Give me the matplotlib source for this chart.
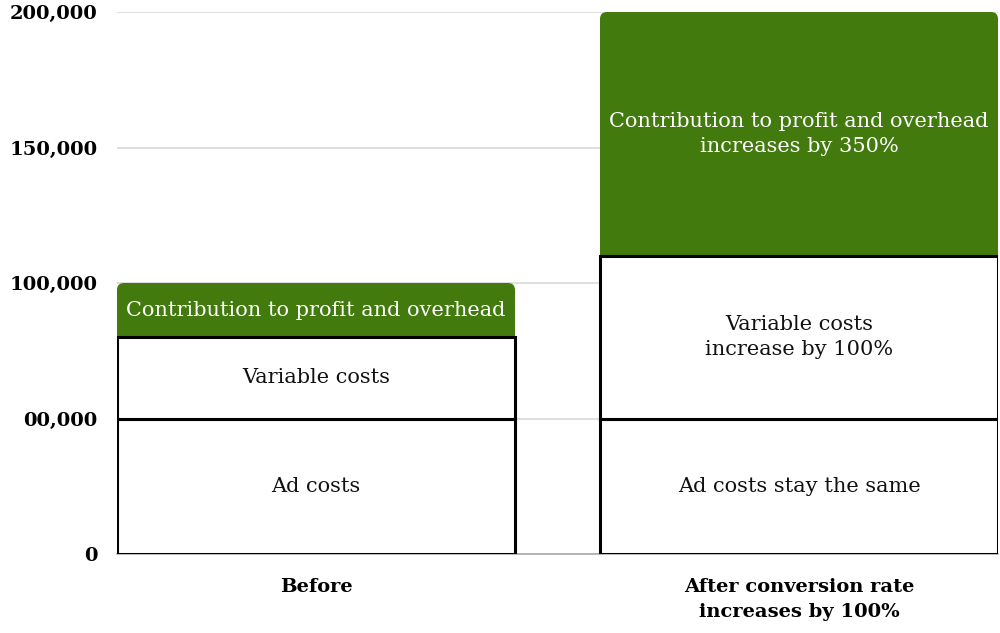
import matplotlib
matplotlib.use("Agg")
import matplotlib.pyplot as plt
from matplotlib.patches import FancyBboxPatch

categories = ["Before", "After conversion rate\nincreases by 100%"]
ad_costs = [50000, 50000]
variable_costs = [30000, 60000]
contribution = [20000, 90000]
ad_labels = ["Ad costs", "Ad costs stay the same"]
var_labels = ["Variable costs", "Variable costs\nincrease by 100%"]
contrib_labels = ["Contribution to profit and overhead",
                  "Contribution to profit and overhead\nincreases by 350%"]
yticks = [0, 50000, 100000, 150000, 200000]
ytick_labels = ["0", "00,000", "100,000", "150,000", "200,000"]

GREEN = "#427A0E"
FONT = ["DejaVu Serif", "Liberation Serif", "DejaVu Sans"]

fig = plt.figure(figsize=(10, 6.33), dpi=100)
ax = fig.add_axes([0.117, 1 - 554 / 633, 0.881, 542 / 633])

width = 0.824
x = list(range(len(categories)))
ax.set_xlim(-width / 2, len(categories) - 1 + width / 2)
ax.set_ylim(0, 200000)

px_x = (len(categories) - 1 + width) / 881
px_y = 200000 / 542
radius_px = 7

for i in x:
    base = ad_costs[i] + variable_costs[i]
    top = base + contribution[i]
    box = FancyBboxPatch((i - width / 2 + radius_px * px_x, base - 20 * px_y),
                         width - 2 * radius_px * px_x,
                         top - base + 20 * px_y - radius_px * px_y,
                         boxstyle=f"round,pad={radius_px * px_x},rounding_size={radius_px * px_x}",
                         mutation_aspect=px_y / px_x,
                         facecolor=GREEN, edgecolor="none", zorder=2)
    ax.add_patch(box)

ax.bar(x, ad_costs, width=width, color="white", edgecolor="black", linewidth=2.2, zorder=3)
ax.bar(x, variable_costs, bottom=ad_costs, width=width, color="white",
       edgecolor="black", linewidth=2.2, zorder=3)

TXT = dict(ha="center", va="center", fontsize=15, family=FONT, zorder=5, linespacing=1.37)
for i in x:
    ax.text(i, ad_costs[i] / 2, ad_labels[i], color="#111111", **TXT)
    ax.text(i, ad_costs[i] + variable_costs[i] / 2, var_labels[i], color="#111111", **TXT)
    ax.text(i, ad_costs[i] + variable_costs[i] + contribution[i] / 2, contrib_labels[i],
            color="white", **TXT)

ax.set_yticks(yticks)
ax.set_yticklabels(ytick_labels, fontsize=14, fontweight="bold", family=FONT)
ax.set_xticks(x)
ax.set_xticklabels(categories, fontsize=14, fontweight="bold", family=FONT, linespacing=1.5)
ax.tick_params(axis="y", length=0, pad=14)
ax.tick_params(axis="x", length=0, pad=17)

ax.grid(axis="y", color="#d9d9d9", linewidth=1.2, zorder=0)
ax.set_axisbelow(True)
for s in ["left", "right", "top"]:
    ax.spines[s].set_visible(False)
ax.spines["bottom"].set_color("#aaaaaa")
ax.spines["bottom"].set_linewidth(1.2)
ax.spines["bottom"].set_zorder(1)

fig.savefig("out.png", dpi=100, facecolor="white")
